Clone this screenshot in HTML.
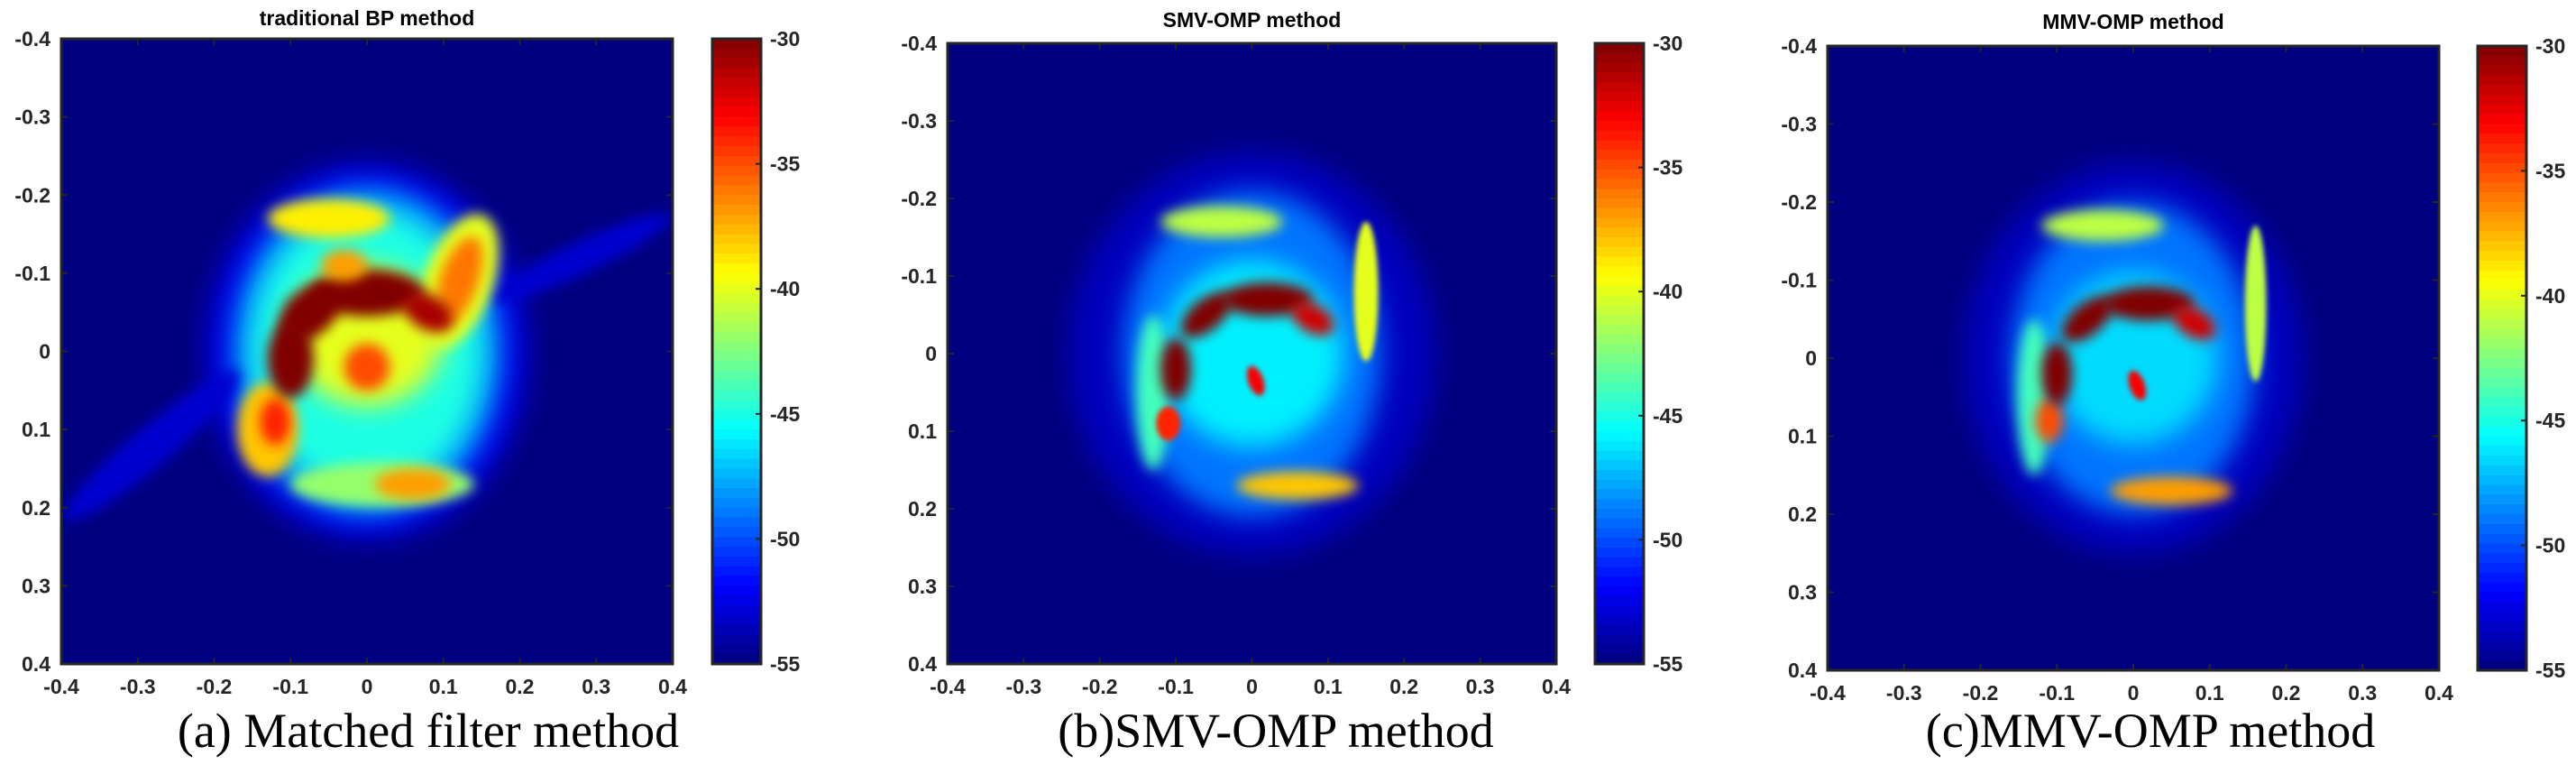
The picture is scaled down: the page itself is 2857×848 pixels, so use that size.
<!DOCTYPE html>
<html><head><meta charset="utf-8">
<style>
html,body{margin:0;padding:0;background:#fff;}
svg{display:block;}
text{font-family:"Liberation Sans",Arial,sans-serif;}
.cap{font-family:"Liberation Serif","Times New Roman",serif;font-size:54px;fill:#000;}
</style></head>
<body>
<svg id="fig" width="2857" height="848" viewBox="0 0 2857 848" xmlns="http://www.w3.org/2000/svg">
<defs>
<filter id="blurL" x="-50%" y="-50%" width="200%" height="200%"><feGaussianBlur stdDeviation="14"/></filter>
<filter id="blurM" x="-50%" y="-50%" width="200%" height="200%"><feGaussianBlur stdDeviation="7"/></filter>
<filter id="blurS" x="-50%" y="-50%" width="200%" height="200%"><feGaussianBlur stdDeviation="3"/></filter>
</defs>
<text class="cap" x="475" y="828" text-anchor="middle">(a) Matched filter method</text>
<text class="cap" x="1415" y="828" text-anchor="middle">(b)SMV-OMP method</text>
<text class="cap" x="2385" y="828" text-anchor="middle">(c)MMV-OMP method</text>
</svg>
<script>
// Tick labels and colorbar values
const axisTicks = [-0.4,-0.3,-0.2,-0.1,0,0.1,0.2,0.3,0.4];
const axisTickLabels = ["-0.4","-0.3","-0.2","-0.1","0","0.1","0.2","0.3","0.4"];
const cbarTicks = [-30,-35,-40,-45,-50,-55];
const cbarMin = -55, cbarMax = -30;
const panelTitles = ["traditional BP method","SMV-OMP method","MMV-OMP method"];
// Blobs: [x, y, rx, ry, dB, rotationDeg] in data units
const blobsA = [
  [0.0,0.0,0.21,0.24,-52.5,0],
  [0.0,0.0,0.175,0.21,-48,0],
  [-0.28,0.12,0.15,0.025,-53,-40],
  [0.28,-0.12,0.13,0.02,-53,-25],
  [0.0,0.0,0.15,0.18,-45,0],
  [-0.05,-0.17,0.08,0.025,-39,0],
  [0.12,-0.09,0.045,0.09,-40,20],
  [0.12,-0.09,0.025,0.06,-36,20],
  [-0.13,0.1,0.04,0.06,-38,0],
  [-0.12,0.09,0.02,0.03,-34,0],
  [0.02,0.17,0.12,0.028,-42,0],
  [0.06,0.17,0.05,0.02,-37,0],
  [0.0,-0.02,0.1,0.09,-40,0],
  [-0.1,0.01,0.03,0.05,-30,0],
  [-0.075,-0.05,0.045,0.03,-30,-40],
  [0.0,-0.075,0.075,0.03,-30,0],
  [0.08,-0.05,0.035,0.022,-31,30],
  [0.0,0.02,0.03,0.03,-35,0],
  [-0.03,-0.11,0.03,0.02,-37,0]
];
const blobsB = [
  [0.0,0.0,0.24,0.26,-53.5,0],
  [0.0,0.0,0.17,0.21,-49,0],
  [0.0,0.0,0.12,0.12,-46,0],
  [-0.04,-0.17,0.08,0.02,-41,0],
  [0.15,-0.08,0.016,0.09,-40,0],
  [-0.13,0.05,0.022,0.1,-44,0],
  [0.06,0.17,0.08,0.018,-38,0],
  [-0.11,0.09,0.016,0.022,-34,0],
  [-0.1,0.02,0.02,0.04,-30,0],
  [-0.06,-0.05,0.04,0.02,-30,-40],
  [0.02,-0.07,0.06,0.022,-30,0],
  [0.08,-0.045,0.03,0.018,-32,30],
  [0.005,0.035,0.01,0.02,-33,-20]
];
const blobsC = [
  [0.0,0.0,0.22,0.25,-53.5,0],
  [0.0,0.0,0.16,0.2,-49,0],
  [0.0,0.0,0.11,0.11,-46.5,0],
  [-0.04,-0.17,0.08,0.02,-41,0],
  [0.16,-0.07,0.014,0.1,-41,0],
  [-0.13,0.05,0.022,0.1,-44,0],
  [0.05,0.17,0.08,0.018,-37,0],
  [-0.11,0.08,0.018,0.028,-35,0],
  [-0.1,0.02,0.02,0.04,-30,0],
  [-0.06,-0.05,0.04,0.02,-30,-40],
  [0.02,-0.07,0.06,0.022,-30,0],
  [0.08,-0.045,0.03,0.018,-32,30],
  [0.005,0.035,0.01,0.02,-33,-20]
];
const panels = [
  {id:'a', x0:68, x1:746, y0:43, y1:736, cb:[790,844], blobs:blobsA, title:0, ty:28},
  {id:'b', x0:1051, x1:1726, y0:48, y1:736, cb:[1769,1823], blobs:blobsB, title:1, ty:30},
  {id:'c', x0:2027, x1:2705, y0:51, y1:743, cb:[2748,2802], blobs:blobsC, title:2, ty:32}
];
function jet(t){
  t=Math.max(0,Math.min(1,t));
  const r=Math.max(0,Math.min(1,1.5-Math.abs(4*t-3)));
  const g=Math.max(0,Math.min(1,1.5-Math.abs(4*t-2)));
  const b=Math.max(0,Math.min(1,1.5-Math.abs(4*t-1)));
  return `rgb(${Math.round(r*255)},${Math.round(g*255)},${Math.round(b*255)})`;
}
function colorOf(db){return jet((db-cbarMin)/(cbarMax-cbarMin));}
const NS='http://www.w3.org/2000/svg';
const svg=document.getElementById('fig');
function mk(tag,attrs,parent){const e=document.createElementNS(NS,tag);for(const k in attrs)e.setAttribute(k,attrs[k]);(parent||svg).appendChild(e);return e;}
panels.forEach(p=>{
  const sx=v=>p.x0+(v+0.4)/0.8*(p.x1-p.x0);
  const sy=v=>p.y0+(v+0.4)/0.8*(p.y1-p.y0);
  const g=mk('g',{});
  
  
  const cid='clip'+p.id;
  const cp=mk('clipPath',{id:cid},svg.querySelector('defs'));
  mk('rect',{x:p.x0,y:p.y0,width:p.x1-p.x0,height:p.y1-p.y0},cp);
  const bg=mk('rect',{x:p.x0,y:p.y0,width:p.x1-p.x0,height:p.y1-p.y0,fill:colorOf(-55)},g);
  
  
  const inner=mk('g',{'clip-path':`url(#${cid})`},g);
  p.blobs.forEach((b,i)=>{
    const rx=b[2]/0.8*(p.x1-p.x0), ry=b[3]/0.8*(p.y1-p.y0);
    const f=Math.min(rx,ry)>60?'blurL':(Math.min(rx,ry)>15?'blurM':'blurS');
    const e=mk('ellipse',{cx:sx(b[0]),cy:sy(b[1]),rx:rx,ry:ry,fill:colorOf(b[4]),filter:`url(#${f})`,transform:`rotate(${b[5]} ${sx(b[0])} ${sy(b[1])})`},inner);
    
    
  });
  const frame=mk('rect',{x:p.x0,y:p.y0,width:p.x1-p.x0,height:p.y1-p.y0,fill:'none',stroke:'#262626','stroke-width':3},g);
  
  
  axisTicks.forEach((v,i)=>{
    const x=sx(v), y=sy(v);
    mk('line',{x1:x,x2:x,y1:p.y1,y2:p.y1-7,stroke:'#262626','stroke-width':2},g);
    mk('line',{x1:x,x2:x,y1:p.y0,y2:p.y0+7,stroke:'#262626','stroke-width':2},g);
    mk('line',{x1:p.x0,x2:p.x0+7,y1:y,y2:y,stroke:'#262626','stroke-width':2},g);
    mk('line',{x1:p.x1,x2:p.x1-7,y1:y,y2:y,stroke:'#262626','stroke-width':2},g);
    const xl=mk('text',{x:x,y:p.y1+33,'text-anchor':'middle','font-size':23,'font-weight':'bold',fill:'#262626'});
    xl.textContent=axisTickLabels[i];
    
    
    const yl=mk('text',{x:p.x0-12,y:y+8,'text-anchor':'end','font-size':23,'font-weight':'bold',fill:'#262626'});
    yl.textContent=axisTickLabels[i];
    
    
  });
  const t=mk('text',{x:(p.x0+p.x1)/2,y:p.ty,'text-anchor':'middle','font-size':23,'font-weight':'bold',fill:'#000'});
  t.textContent=panelTitles[p.title];
  
  
  const cg=mk('g',{});
  
  
  const n=64, h=(p.y1-p.y0)/n;
  for(let k=0;k<n;k++){
    const db=cbarMax-(k+0.5)/n*(cbarMax-cbarMin);
    mk('rect',{x:p.cb[0],y:p.y0+k*h,width:p.cb[1]-p.cb[0],height:h+0.6,fill:colorOf(db)},cg);
  }
  mk('rect',{x:p.cb[0],y:p.y0,width:p.cb[1]-p.cb[0],height:p.y1-p.y0,fill:'none',stroke:'#262626','stroke-width':3},cg);
  cbarTicks.forEach(v=>{
    const y=p.y0+(cbarMax-v)/(cbarMax-cbarMin)*(p.y1-p.y0);
    mk('line',{x1:p.cb[1],x2:p.cb[1]-6,y1:y,y2:y,stroke:'#262626','stroke-width':2},cg);
    const l=mk('text',{x:p.cb[1]+10,y:y+8,'font-size':23,'font-weight':'bold',fill:'#262626'},cg);
    l.textContent=String(v);
    
    
  });
});
</script>
</body></html>
